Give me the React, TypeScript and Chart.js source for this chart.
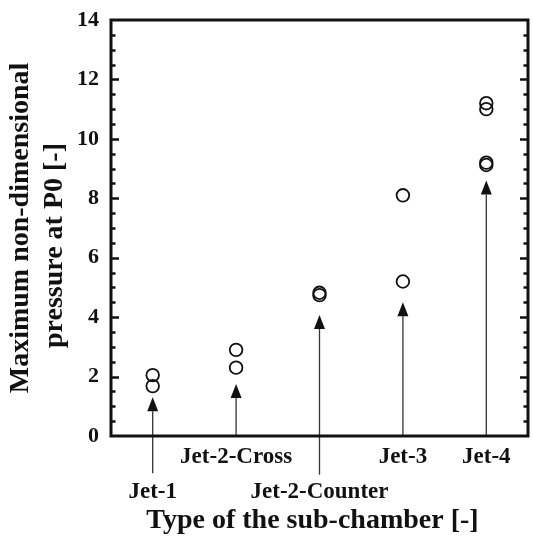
import React, { useEffect, useRef } from "react";
import { Chart, registerables } from "chart.js";

Chart.register(...registerables);

const categories = ["Jet-1", "Jet-2-Cross", "Jet-2-Counter", "Jet-3", "Jet-4"];
// 1 = label on the lower row, 0 = upper row
const labelRow = [1, 0, 1, 0, 0];

const pointCategory = [
  "Jet-1", "Jet-1",
  "Jet-2-Cross", "Jet-2-Cross",
  "Jet-2-Counter", "Jet-2-Counter",
  "Jet-3", "Jet-3",
  "Jet-4", "Jet-4", "Jet-4", "Jet-4",
];
const pointValue = [2.05, 1.68, 2.9, 2.3, 4.82, 4.74, 8.1, 5.2, 11.2, 11.0, 9.2, 9.12];

const arrowFrom = [-1.25, 0, -1.3, 0, 0];
const arrowTo = [1.3, 1.75, 4.07, 4.5, 8.6];

const yMin = 0;
const yMax = 14;
const yMajorStep = 2;
const yMinorStep = 0.5;

const xTitle = "Type of the sub-chamber [-]";
const yTitle = ["Maximum non-dimensional", "pressure at P0 [-]"];

const FONT = "'Liberation Serif', 'Times New Roman', serif";

const zeroPadding = (s: any) => {
  s.paddingLeft = 0;
  s.paddingRight = 0;
  s.paddingTop = 0;
  s.paddingBottom = 0;
};

const decorPlugin = {
  id: "decor",
  beforeDatasetsDraw(chart: any) {
    const { ctx } = chart;
    const xs = chart.scales.x;
    const ys = chart.scales.y;
    ctx.save();
    categories.forEach((c, i) => {
      const x = xs.getPixelForValue(i);
      const yFrom = ys.getPixelForValue(arrowFrom[i]);
      const yTip = ys.getPixelForValue(arrowTo[i]);
      const headLen = 14;
      const headHalf = 5.5;
      ctx.strokeStyle = "#333";
      ctx.lineWidth = 1.3;
      ctx.beginPath();
      ctx.moveTo(x, yFrom);
      ctx.lineTo(x, yTip + headLen);
      ctx.stroke();
      ctx.fillStyle = "#111";
      ctx.beginPath();
      ctx.moveTo(x, yTip);
      ctx.lineTo(x - headHalf, yTip + headLen);
      ctx.lineTo(x + headHalf, yTip + headLen);
      ctx.closePath();
      ctx.fill();
    });
    ctx.restore();
  },
  afterDraw(chart: any) {
    const { ctx, chartArea } = chart;
    const ys = chart.scales.y;
    const { left, right, top, bottom } = chartArea;
    ctx.save();
    ctx.strokeStyle = "#111";
    ctx.lineWidth = 2.5;
    for (let v = yMin + yMinorStep; v < yMax; v += yMinorStep) {
      const y = Math.round(ys.getPixelForValue(v)) + 0.5;
      const major = Math.abs(v / yMajorStep - Math.round(v / yMajorStep)) < 1e-6;
      const len = major ? 8 : 4.5;
      ctx.beginPath();
      ctx.moveTo(left, y);
      ctx.lineTo(left + len, y);
      ctx.moveTo(right, y);
      ctx.lineTo(right - len, y);
      ctx.stroke();
    }
    ctx.lineWidth = 3;
    ctx.strokeRect(left, top, right - left, bottom - top);
    ctx.restore();
  },
};

export default function App() {
  const ref = useRef<HTMLCanvasElement | null>(null);

  useEffect(() => {
    if (!ref.current) return;
    const chart = new Chart(ref.current, {
      type: "scatter",
      data: {
        labels: categories,
        datasets: [
          {
            data: pointCategory.map((c, i) => ({ x: c, y: pointValue[i] })) as any,
            pointStyle: "circle",
            pointRadius: 6.3,
            pointBorderWidth: 1.8,
            borderColor: "#111",
            backgroundColor: "rgba(0,0,0,0)",
            pointBackgroundColor: "rgba(0,0,0,0)",
            pointBorderColor: "#111",
          },
        ],
      },
      options: {
        animation: false,
        responsive: false,
        layout: { autoPadding: false, padding: { top: 20, right: 5, left: 0, bottom: 0 } },
        plugins: { legend: { display: false }, tooltip: { enabled: false } },
        scales: {
          x: {
            type: "category",
            labels: categories,
            offset: true,
            grid: { display: false, drawTicks: false },
            border: { display: false },
            ticks: {
              autoSkip: false,
              maxRotation: 0,
              minRotation: 0,
              padding: 4,
              color: "#111",
              font: { family: FONT, size: 23, weight: "bold", lineHeight: 1.52 },
              callback: (_v: any, i: number) =>
                labelRow[i] ? ["", categories[i]] : categories[i],
            },
            title: {
              display: true,
              text: xTitle + "\u00a0\u00a0",
              color: "#111",
              font: { family: FONT, size: 28, weight: "bold", lineHeight: 1.2 },
              padding: { top: 0, bottom: 6 },
            },
            afterFit: (s: any) => {
              s.height = 108;
              zeroPadding(s);
            },
          },
          y: {
            min: yMin,
            max: yMax,
            grid: { display: false, drawTicks: false },
            border: { display: false },
            ticks: {
              stepSize: yMajorStep,
              padding: 12,
              color: "#111",
              font: { family: FONT, size: 22, weight: "bold" },
            },
            title: {
              display: true,
              text: [yTitle[0], yTitle[1] + "\u00a0".repeat(5)],
              color: "#111",
              font: { family: FONT, size: 28, weight: "bold", lineHeight: 1.22 },
              padding: { top: 4, bottom: 0 },
            },
            afterFit: (s: any) => {
              s.width = 111;
              zeroPadding(s);
            },
          },
        },
      },
      plugins: [decorPlugin],
    } as any);
    return () => chart.destroy();
  }, []);

  return (
    <div style={{ position: "fixed", left: 0, top: 0, width: 533, height: 544, background: "#fff" }}>
      <canvas ref={ref} width={533} height={544} style={{ display: "block" }} />
    </div>
  );
}
